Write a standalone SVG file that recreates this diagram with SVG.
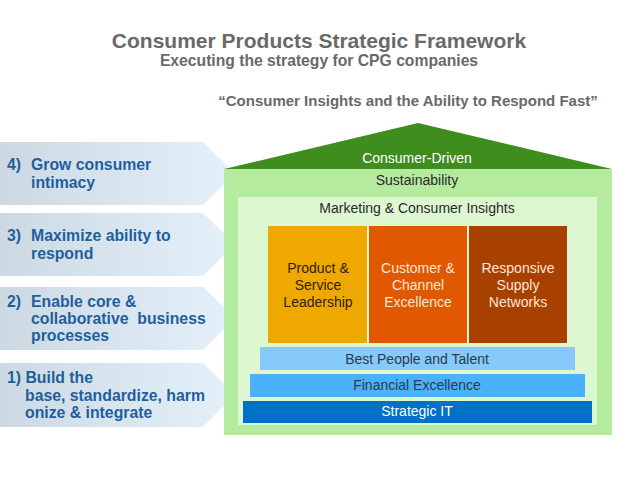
<svg xmlns="http://www.w3.org/2000/svg" width="638" height="479" viewBox="0 0 638 479">
<defs>
<linearGradient id="pg" x1="0" y1="0" x2="1" y2="0">
<stop offset="0" stop-color="#ccd9e3"/>
<stop offset="1" stop-color="#e4f1fb"/>
</linearGradient>
<style>
.t{font-family:"Liberation Sans",Arial,sans-serif}
.h{font-weight:bold;fill:#696969}
.lp{font-weight:bold;fill:#1f5f9c;font-size:15.8px;white-space:pre}
.c{font-size:14px;text-anchor:middle}
.b{font-size:14px;text-anchor:middle}
.panel{fill:url(#pg)}
</style>
</defs>
<rect width="638" height="479" fill="#ffffff"/>
<g id="title" class="t h">
<text x="319" y="48" font-size="21" text-anchor="middle">Consumer Products Strategic Framework</text>
<text x="319" y="66" font-size="15.7" text-anchor="middle">Executing the strategy for CPG companies</text>
<text x="408" y="106" font-size="15" text-anchor="middle">“Consumer Insights and the Ability to Respond Fast”</text>
</g>
<g id="panel4">
<polygon class="panel" points="0,142 203,142 235,173 203,205 0,205"/>
<text class="t lp"><tspan x="7" y="170">4)</tspan><tspan x="31" y="170">Grow consumer</tspan><tspan x="31" y="188">intimacy</tspan></text>
</g>
<g id="panel3">
<polygon class="panel" points="0,213 203,213 235,244 203,276 0,276"/>
<text class="t lp"><tspan x="7" y="241">3)</tspan><tspan x="31" y="241">Maximize ability to</tspan><tspan x="31" y="259">respond</tspan></text>
</g>
<g id="panel2">
<polygon class="panel" points="0,287 203,287 235,318 203,350 0,350"/>
<text class="t lp" xml:space="preserve"><tspan x="7" y="307">2)</tspan><tspan x="31" y="307">Enable core &amp;</tspan><tspan x="31" y="324">collaborative  business</tspan><tspan x="31" y="341">processes</tspan></text>
</g>
<g id="panel1">
<polygon class="panel" points="0,363 203,363 235,395 203,427 0,427"/>
<text class="t lp"><tspan x="7" y="383">1) Build the</tspan><tspan x="25" y="401">base, standardize, harm</tspan><tspan x="25" y="418">onize &amp; integrate</tspan></text>
</g>
<g id="house">
<rect x="224" y="169" width="388" height="266" fill="#b5eb9f"/>
<polygon points="224,169 418,123 612,169" fill="#3f8d1d"/>
<rect x="238" y="197" width="359" height="228" fill="#ddf7d1"/>
</g>
<g id="roof-labels" class="t">
<text class="c" x="417" y="163" fill="#ffffff">Consumer-Driven</text>
<text class="c" x="417" y="185" fill="#2a2a2a">Sustainability</text>
<text class="c" x="417" y="213" fill="#2a2a2a">Marketing &amp; Consumer Insights</text>
</g>
<g id="col1">
<rect x="268" y="226" width="99" height="117" fill="#eea800"/>
<text class="t c" fill="#2f2200"><tspan x="318" y="273">Product &amp;</tspan><tspan x="318" y="290">Service</tspan><tspan x="318" y="307">Leadership</tspan></text>
</g>
<g id="col2">
<rect x="369" y="226" width="98" height="117" fill="#e05800"/>
<text class="t c" fill="#ffe6d4"><tspan x="418" y="273">Customer &amp;</tspan><tspan x="418" y="290">Channel</tspan><tspan x="418" y="307">Excellence</tspan></text>
</g>
<g id="col3">
<rect x="469" y="226" width="98" height="117" fill="#a84100"/>
<text class="t c" fill="#ffe6d4"><tspan x="518" y="273">Responsive</tspan><tspan x="518" y="290">Supply</tspan><tspan x="518" y="307">Networks</tspan></text>
</g>
<g id="bar-people">
<rect x="260" y="347" width="315" height="23" fill="#86c9fb"/>
<text class="t b" x="417" y="364" fill="#2e3a48">Best People and Talent</text>
</g>
<g id="bar-finance">
<rect x="250" y="374" width="335" height="23" fill="#4cb1fb"/>
<text class="t b" x="417" y="390" fill="#2e3a48">Financial Excellence</text>
</g>
<g id="bar-it">
<rect x="243" y="401" width="349" height="22" fill="#0071c6"/>
<text class="t b" x="417" y="416" fill="#ffffff">Strategic IT</text>
</g>
<g id="connectors"/>
</svg>
